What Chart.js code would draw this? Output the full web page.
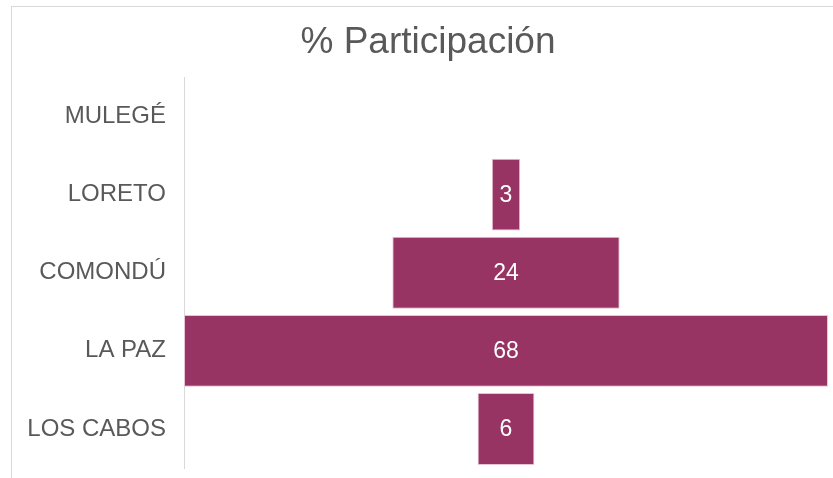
<!DOCTYPE html>
<html>
<head>
<meta charset="utf-8">
<script src="https://cdn.jsdelivr.net/npm/chart.js@4.4.0/dist/chart.umd.min.js"></script>
<style>
  body { margin: 0; background: #fff; }
  #marco { position: absolute; left: 11px; top: 6px; width: 840px; height: 490px; border: 1px solid #d9d9d9; }
  #grafico { position: absolute; left: 0; top: 0; }
</style>
</head>
<body>
<div id="marco"></div>
<canvas id="grafico" width="833" height="478"></canvas>
<script>
// datos del embudo
const municipios = ["MULEGÉ", "LORETO", "COMONDÚ", "LA PAZ", "LOS CABOS"];
const participacion = [0, 3, 24, 68, 6];
const titulo = "% Participación";

const colorBarra = "#983463";
const colorTexto = "#595959";

// cada barra va centrada en cero
const rangos = participacion.map(v => [-v / 2, v / 2]);
const maximo = Math.max(...participacion) / 2;

// etiquetas blancas dentro de las barras
const etiquetasBarras = {
    id: "etiquetasBarras",
    afterDatasetsDraw(chart) {
        const ctx = chart.ctx;
        const meta = chart.getDatasetMeta(0);
        ctx.save();
        ctx.fillStyle = "#ffffff";
        ctx.font = "23px 'Liberation Sans', Arial, sans-serif";
        ctx.textAlign = "center";
        ctx.textBaseline = "middle";
        meta.data.forEach((barra, i) => {
            if (participacion[i] > 0) {
                const p = barra.getProps(["x", "y", "base"], true);
                ctx.fillText(participacion[i], (p.x + p.base) / 2, p.y + 1);
            }
        });
        ctx.restore();
    }
};

new Chart(document.getElementById("grafico"), {
    type: "bar",
    data: {
        labels: municipios,
        datasets: [{
            data: rangos,
            backgroundColor: colorBarra,
            borderColor: "#e7c3d3",
            borderWidth: participacion.map(v => v > 0 ? 1 : 0),
            borderSkipped: false,
            categoryPercentage: 1,
            barPercentage: 0.92
        }]
    },
    options: {
        indexAxis: "y",
        responsive: false,
        animation: false,
        layout: { padding: { top: 0, left: 28, right: 5, bottom: 10 } },
        plugins: {
            legend: { display: false },
            tooltip: { enabled: false },
            title: {
                display: true,
                text: titulo,
                color: colorTexto,
                font: { family: "'Liberation Sans', Arial, sans-serif", size: 37, weight: "normal" },
                padding: { top: 21, bottom: 12 }
            }
        },
        scales: {
            x: { display: false, min: -maximo, max: maximo },
            y: {
                afterFit(scale) {
                    scale.width = 156;
                    scale.paddingTop = 0;
                    scale.paddingBottom = 0;
                },
                grid: { display: false, drawTicks: false },
                border: { display: true, color: "#d9d9d9", width: 1 },
                ticks: {
                    color: colorTexto,
                    padding: 18,
                    font: { family: "'Liberation Sans', Arial, sans-serif", size: 24 }
                }
            }
        }
    },
    plugins: [etiquetasBarras]
});
</script>
</body>
</html>
